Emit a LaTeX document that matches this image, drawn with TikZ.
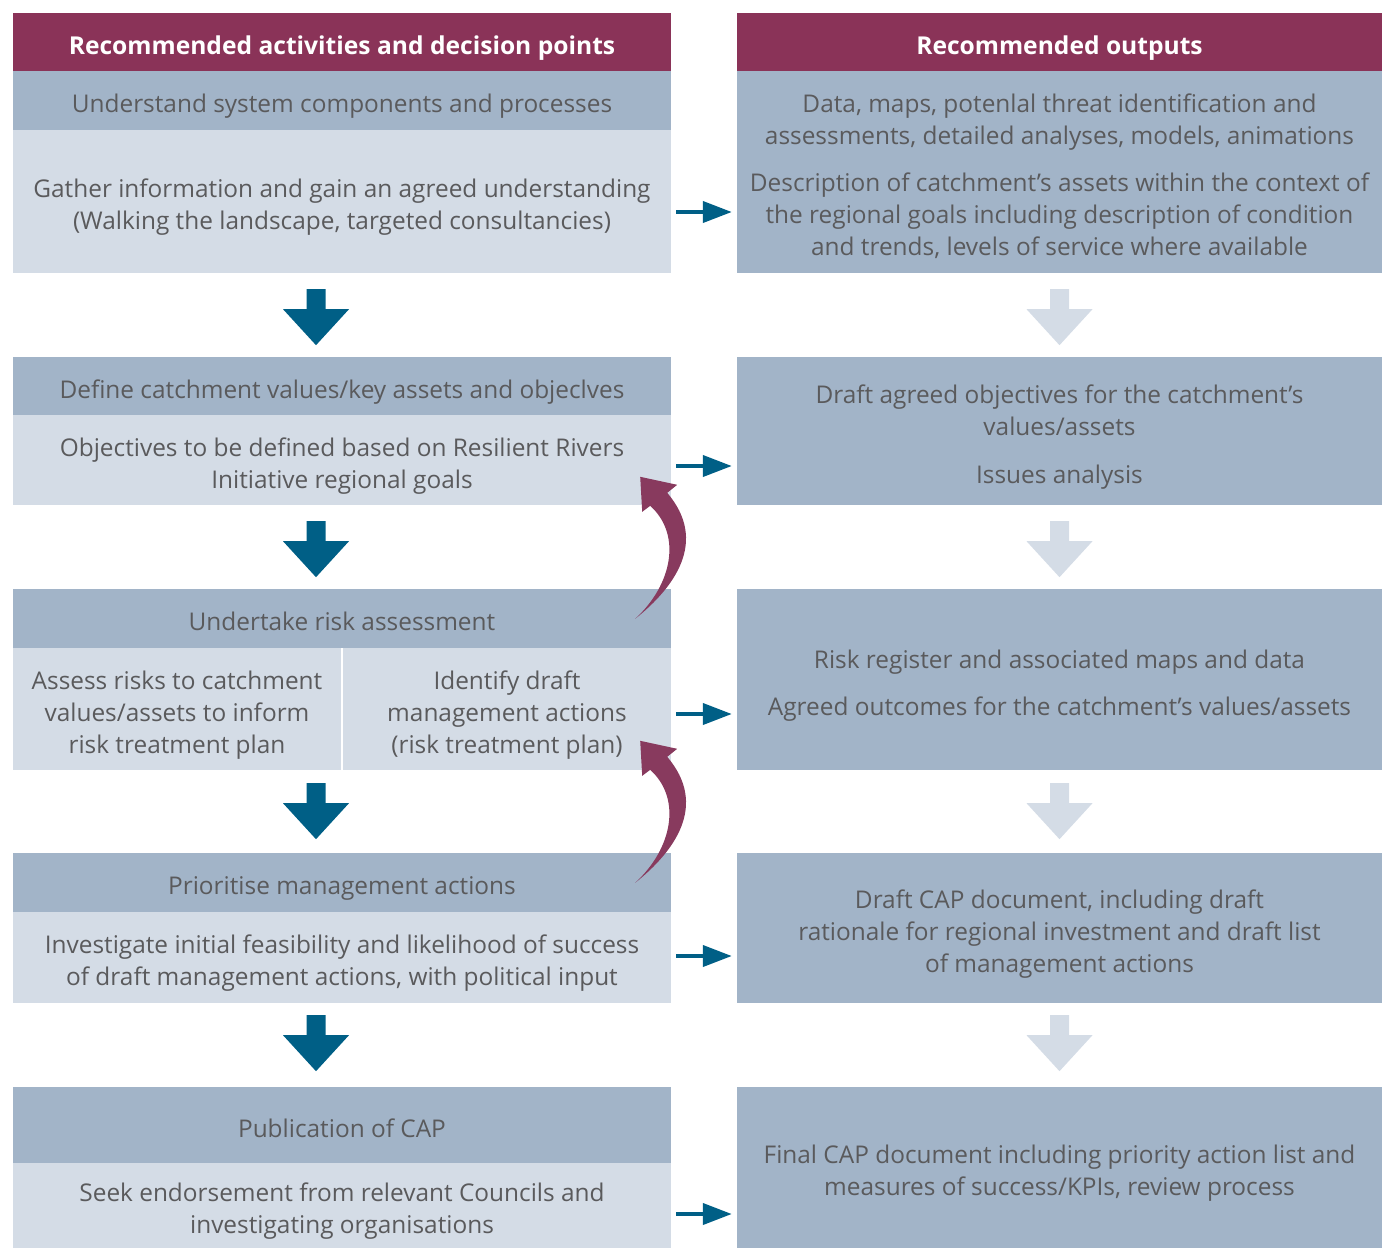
\documentclass[tikz,border=0pt]{standalone}
\usepackage{fontspec}
\setmainfont{Open Sans}
\usetikzlibrary{arrows.meta,calc}

\definecolor{headc}{HTML}{8A3358}
\definecolor{bandc}{HTML}{A2B4C8}
\definecolor{bodyc}{HTML}{D4DCE6}
\definecolor{txtc}{HTML}{5A5A5C}
\definecolor{darkc}{HTML}{005F86}
\definecolor{loopc}{HTML}{883A5E}

\newcommand\tstr{\rule{0pt}{30pt}}
\newcommand\bstr{\rule[-6pt]{0pt}{0pt}}

\tikzset{
  box/.style={inner sep=0pt, align=center, text=txtc, font=\fontsize{24.4}{32}\selectfont},
  head/.style={box, fill=headc, text=white, font=\fontsize{24.6}{32}\selectfont\bfseries, minimum height=58pt},
  band/.style={box, fill=bandc},
  body/.style={box, fill=bodyc},
  lft/.style={minimum width=658pt},
  rgt/.style={minimum width=645pt},
  conn/.style={darkc, line width=4pt, shorten <=5pt, shorten >=5pt, -{Triangle[length=29pt,width=21pt]}},
  pics/blockarrow/.style={code={
    \fill[#1] (-9.5,0) -- (9.5,0) -- (9.5,20) -- (33,20) -- (0,56) -- (-33,20) -- (-9.5,20) -- cycle;}},
  pics/backarrow/.style={code={
    \fill[loopc] (-36,30) .. controls (4,-2) and (37,-48) .. (-4,-96) -- (6,-104) -- (-31,-112) -- (-29,-77)
      -- (-21,-83) .. controls (11,-54) and (1,-4) .. cycle;}}
}

\begin{document}
\begin{tikzpicture}[x=1pt,y=-1pt]
\useasboundingbox (0,0) rectangle (1382,1248);

\node[head, lft] (h1) at (342,42) {\tstr Recommended activities and decision points\bstr};
\node[head, rgt] (h2) at (1059.5,42) {\tstr Recommended outputs\bstr};

\node[band, lft, minimum height=59pt] (t1) at (342,100.5) {\tstr Understand system components and processes\bstr};
\node[body, lft, minimum height=143pt] (b1) at (342,201.5) {\tstr Gather information and gain an agreed understanding\\(Walking the landscape, targeted consultancies)\bstr};
\node[band, rgt, minimum height=202pt] (o1) at (1059.5,172) {\tstr Data, maps, potenlal threat identification and\\assessments, detailed analyses, models, animations\\[15pt]Description of catchment’s assets within the context of\\the regional goals including description of condition\\and trends, levels of service where available\bstr};

\node[band, lft, minimum height=58pt] (t2) at (342,386) {\tstr Define catchment values/key assets and objeclves\bstr};
\node[body, lft, minimum height=90pt] (b2) at (342,460) {\tstr Objectives to be defined based on Resilient Rivers\\Initiative regional goals\bstr};
\node[band, rgt, minimum height=148pt] (o2) at (1059.5,431) {\tstr Draft agreed objectives for the catchment’s\\values/assets\\[16pt]Issues analysis\bstr};

\node[band, lft, minimum height=59pt] (t3) at (342,618.5) {\tstr Undertake risk assessment\bstr};
\node[body, minimum width=328pt, minimum height=122pt] (b3) at (177,709) {\tstr Assess risks to catchment\\values/assets to inform\\risk treatment plan\bstr};
\node[body, minimum width=328pt, minimum height=122pt] (b3r) at (507,709) {\tstr Identify draft\\management actions\\(risk treatment plan)\bstr};
\node[band, rgt, minimum height=181pt] (o3) at (1059.5,679.5) {\tstr Risk register and associated maps and data\\[15pt]Agreed outcomes for the catchment’s values/assets\bstr};

\node[band, lft, minimum height=59pt] (t4) at (342,882.5) {\tstr Prioritise management actions\bstr};
\node[body, lft, minimum height=91pt] (b4) at (342,957.5) {\tstr Investigate initial feasibility and likelihood of success\\of draft management actions, with political input\bstr};
\node[band, rgt, minimum height=150pt] (o4) at (1059.5,928) {\tstr Draft CAP document, including draft\\rationale for regional investment and draft list\\of management actions\bstr};

\node[band, lft, minimum height=76pt] (t5) at (342,1125) {\tstr Publication of CAP\bstr};
\node[body, lft, minimum height=85pt] (b5) at (342,1205.5) {\tstr Seek endorsement from relevant Councils and\\investigating organisations\bstr};
\node[band, rgt, minimum height=161pt] (o5) at (1059.5,1167.5) {\tstr Final CAP document including priority action list and\\measures of success/KPIs, review process\bstr};

\draw[conn] (b1.east |- 0,212) -- (o1.west |- 0,212);
\draw[conn] (b2.east |- 0,466) -- (o2.west |- 0,466);
\draw[conn] (b3r.east |- 0,714) -- (o3.west |- 0,714);
\draw[conn] (b4.east |- 0,956) -- (o4.west |- 0,956);
\draw[conn] (b5.east |- 0,1214) -- (o5.west |- 0,1214);

\pic at ($(b1.south)+(-26,16)$) {blockarrow=darkc};
\pic at ($(b2.south)+(-26,16)$) {blockarrow=darkc};
\pic at ($(b3.south)+(139,13)$) {blockarrow=darkc};
\pic at ($(b4.south)+(-26,12)$) {blockarrow=darkc};
\pic at ($(o1.south)+(0,16)$) {blockarrow=bodyc};
\pic at ($(o2.south)+(0,16)$) {blockarrow=bodyc};
\pic at ($(o3.south)+(0,13)$) {blockarrow=bodyc};
\pic at ($(o4.south)+(0,12)$) {blockarrow=bodyc};

\pic at (t3.north east) {backarrow};
\pic at (t4.north east) {backarrow};
\end{tikzpicture}
\end{document}
